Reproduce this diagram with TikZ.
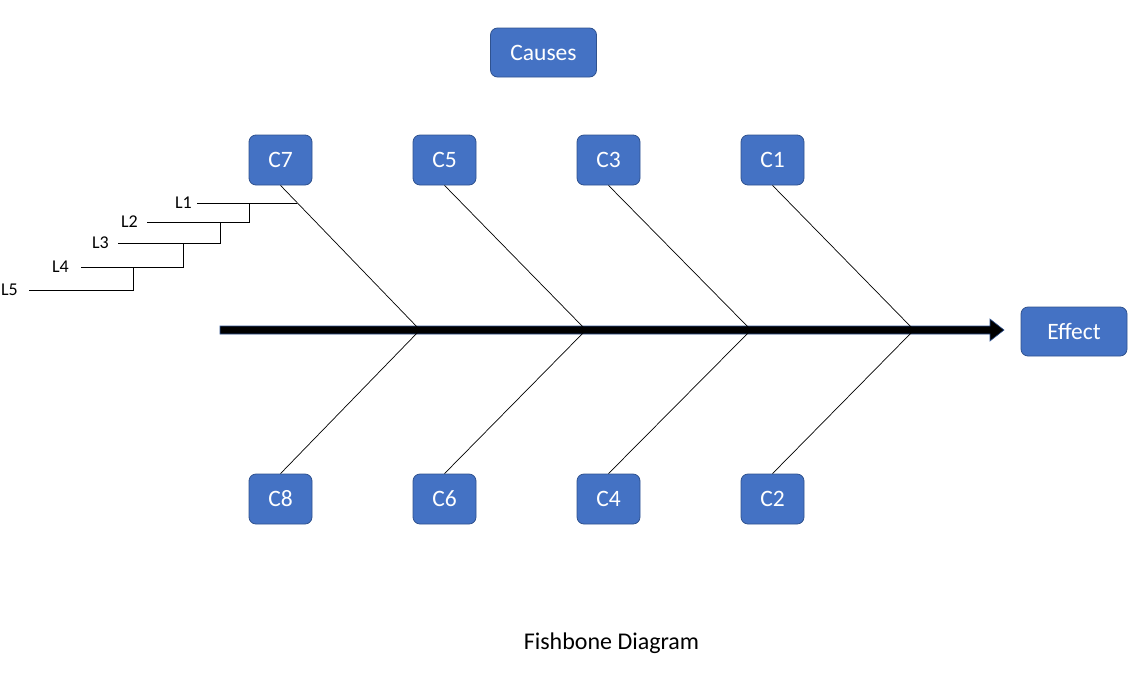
\documentclass[tikz,border=0pt]{standalone}
\usepackage{fontspec}
\setmainfont{Carlito}
\definecolor{boxfill}{HTML}{4472C4}
\definecolor{boxline}{HTML}{2F528F}
\begin{document}
\begin{tikzpicture}[x=1pt,y=-1pt,
  cbox/.style={draw=boxline, fill=boxfill, rounded corners=7pt, text=white,
    font=\fontsize{23.5}{26}\selectfont, minimum width=63pt, minimum height=50pt, inner sep=0pt, line width=0.8pt},
  wbox/.style={cbox, minimum width=106pt, minimum height=49pt},
  bone/.style={draw=black, line width=0.7pt},
  lab/.style={font=\fontsize{18}{20}\selectfont, inner sep=1pt, anchor=east}
]
\useasboundingbox (0,0) rectangle (1139,678);
% spine
\fill[black, draw=boxline, line width=0.6pt] (220,326) -- (990,326) -- (990,319) -- (1004,330) -- (990,341) -- (990,334) -- (220,334) -- cycle;
% junctions
\coordinate (j1) at (420,330);
\coordinate (j2) at (586,330);
\coordinate (j3) at (751,330);
\coordinate (j4) at (914,330);
% boxes
\node[wbox] (causes) at (543.5,52.5) {Causes};
\node[wbox] (effect) at (1074,331.5) {Effect};
\node[cbox] (c7) at (280.5,160) {C7};
\node[cbox] (c5) at (444.5,160) {C5};
\node[cbox] (c3) at (608.5,160) {C3};
\node[cbox] (c1) at (772.5,160) {C1};
\node[cbox] (c8) at (280.5,499) {C8};
\node[cbox] (c6) at (444.5,499) {C6};
\node[cbox] (c4) at (608.5,499) {C4};
\node[cbox] (c2) at (772.5,499) {C2};
% bones
\draw[bone] (c7.south) -- (j1);
\draw[bone] (c5.south) -- (j2);
\draw[bone] (c3.south) -- (j3);
\draw[bone] (c1.south) -- (j4);
\draw[bone] (c8.north) -- (j1);
\draw[bone] (c6.north) -- (j2);
\draw[bone] (c4.north) -- (j3);
\draw[bone] (c2.north) -- (j4);
% sub-levels
\node[lab] (l1) at (193,203) {L1};
\node[lab] (l2) at (139,222) {L2};
\node[lab] (l3) at (110,243) {L3};
\node[lab] (l4) at (70,267) {L4};
\node[lab] (l5) at (19,290) {L5};
\coordinate (b1) at (297,203);
\draw[bone, shorten <=4pt] (l1.east) -- (b1);
\draw[bone, shorten <=8pt] (l2.east) -- (249,222) -- (249,203);
\draw[bone, shorten <=8pt] (l3.east) -- (220,243) -- (220,222);
\draw[bone, shorten <=11pt] (l4.east) -- (183,267) -- (183,243);
\draw[bone, shorten <=10pt] (l5.east) -- (133,290) -- (133,267);
% caption
\node[font=\fontsize{24}{28}\selectfont] (cap) at (611.5,643) {Fishbone Diagram};
\end{tikzpicture}
\end{document}
